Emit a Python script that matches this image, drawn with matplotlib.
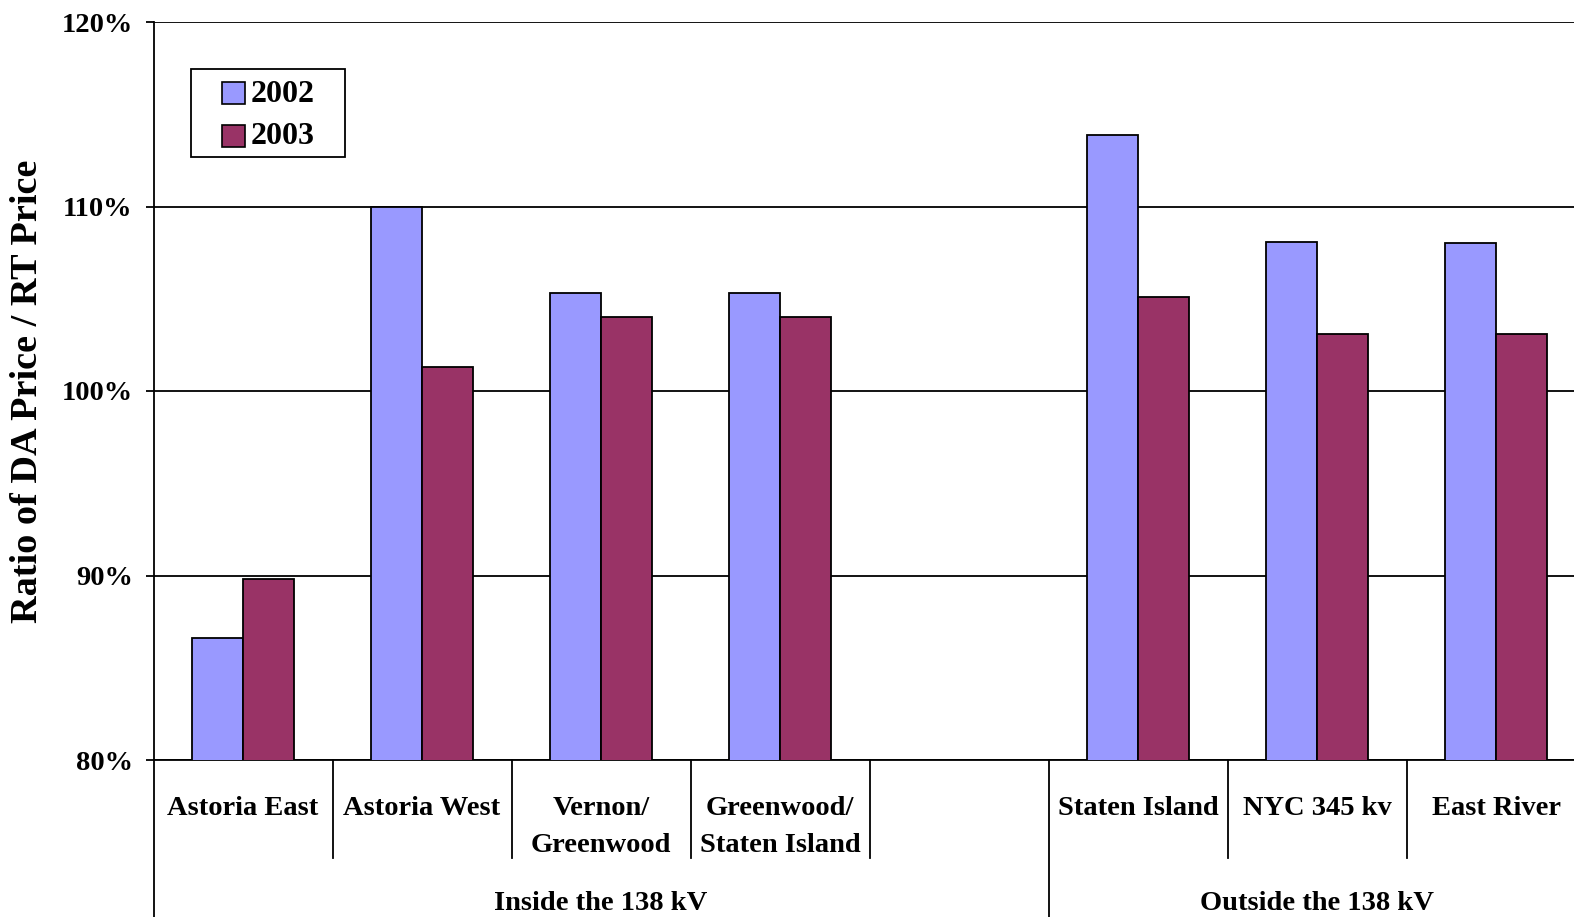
import numpy as np
import matplotlib
matplotlib.use("Agg")
import matplotlib.pyplot as plt
from matplotlib.patches import Rectangle

plt.rcParams['font.family'] = ['Liberation Serif', 'DejaVu Serif']
plt.rcParams['font.weight'] = 'bold'

# zones (the empty slot separates the two groups)
zones = ["Astoria East", "Astoria West", "Vernon/\nGreenwood", "Greenwood/\nStaten Island",
         "", "Staten Island", "NYC 345 kv", "East River"]
groups = ["Inside the 138 kV", "Outside the 138 kV"]
group_spans = [(0, 4), (5, 7)]   # first/last slot of each group
ratio_2002 = [86.6, 110.0, 105.3, 105.3, np.nan, 113.9, 108.1, 108.0]
ratio_2003 = [89.8, 101.3, 104.0, 104.0, np.nan, 105.1, 103.1, 103.1]
years = ["2002", "2003"]
colors = ["#9999FF", "#993366"]

W, H = 1574, 917
fig = plt.figure(figsize=(W / 100, H / 100), dpi=100)
left, right, top, bottom = 153.5, 1585.5, 22, 760
ax = fig.add_axes([left / W, 1 - bottom / H, (right - left) / W, (bottom - top) / H])

x = np.arange(len(zones))
w = 0.285
ax.bar(x - w / 2, ratio_2002, w, color=colors[0], edgecolor="black", linewidth=1.3, zorder=3)
ax.bar(x + w / 2, ratio_2003, w, color=colors[1], edgecolor="black", linewidth=1.3, zorder=3)

ax.set_xlim(-0.5, len(zones) - 0.5)
ax.set_ylim(80, 120)
ax.set_yticks([80, 90, 100, 110, 120])
ax.set_yticklabels([f"{v}%" for v in [80, 90, 100, 110, 120]], fontsize=20.5)
ax.yaxis.grid(True, color="black", linewidth=1.3, zorder=0)
ax.tick_params(axis="y", length=6, width=1.3, pad=9)
ax.set_xticks([])
for s in ["top", "right"]:
    ax.spines[s].set_visible(False)
ax.spines["left"].set_linewidth(1.3)
ax.spines["bottom"].set_linewidth(1.3)

# two-level category axis
px = 1.0 / (bottom - top)
for i, name in enumerate(zones):
    ax.text(i, -36 * px, name, ha="center", va="top", fontsize=20.5,
            linespacing=1.62, transform=ax.get_xaxis_transform())
for b in np.arange(0.5, len(zones) - 1, 1.0):
    depth = (917 - 760) if b == 4.5 else (858 - 760)
    ax.plot([b, b], [0, -depth * px], color="black", lw=1.3,
            transform=ax.get_xaxis_transform(), clip_on=False)
ax.plot([-0.5, -0.5], [0, -(917 - 760) * px], color="black", lw=1.3,
        transform=ax.get_xaxis_transform(), clip_on=False)
for g, (a, b) in zip(groups, group_spans):
    ax.text((a + b) / 2, -(904 - 760) * px, g, ha="center", va="center", fontsize=20.5,
            transform=ax.get_xaxis_transform())

fig.text(28 / W, 1 - 391 / H, "Ratio of DA Price / RT Price", rotation=90,
         ha="center", va="center", fontsize=27.5)

# legend box, laid out in pixels
def fx(v): return v / W
def fy(v): return 1 - v / H

fig.patches.append(Rectangle((fx(191), fy(157)), fx(345) - fx(191), fy(69) - fy(157),
                             transform=fig.transFigure, facecolor="white",
                             edgecolor="black", linewidth=1.3, zorder=5))
for k, (yr, c) in enumerate(zip(years, colors)):
    yc = 93 + 43 * k
    fig.patches.append(Rectangle((fx(222), fy(yc + 11)), fx(245) - fx(222), fy(yc - 11) - fy(yc + 11),
                                 transform=fig.transFigure, facecolor=c,
                                 edgecolor="black", linewidth=1.2, zorder=6))
    fig.text(fx(251), fy(yc + 1), yr, ha="left", va="center", fontsize=23, zorder=6)

fig.savefig("out.png", dpi=100)
